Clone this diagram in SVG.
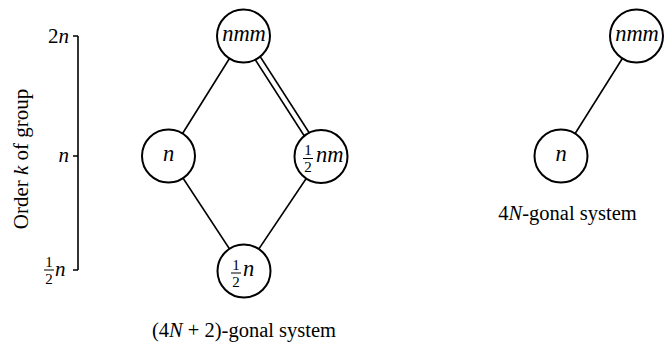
<svg xmlns="http://www.w3.org/2000/svg" width="664" height="347" viewBox="0 0 664 347" font-family="'Liberation Serif', 'DejaVu Serif', serif">
<style>
.v{font-style:italic;font-size:22.5px}
.ax{font-style:italic;font-size:21px}
.fr{font-size:15px}
.lbl{font-size:20.5px}
.node circle{fill:#fff;stroke:#000;stroke-width:2}
.edge{stroke:#000;stroke-width:1.6;fill:none}
.fb{stroke:#000;stroke-width:1}
</style>
<rect width="664" height="347" fill="#fff"/>
<g id="axis">
<path d="M78 36V270M73 36H78M73 156H78M73 270H78" stroke="#000" stroke-width="1.6" fill="none"/>
<text class="ax" x="69" y="43" text-anchor="end"><tspan font-style="normal">2</tspan>n</text>
<text class="ax" x="69" y="162" text-anchor="end">n</text>
<text class="ax" x="55" y="276">n</text>
<text class="fr" x="49" y="267" text-anchor="middle">1</text>
<line class="fb" x1="44" y1="270" x2="54" y2="270"/>
<text class="fr" x="49" y="284" text-anchor="middle">2</text>
<text font-size="21" transform="translate(28 159) rotate(-90)" text-anchor="middle">Order <tspan font-style="italic">k</tspan> of group</text>
</g>
<g id="connectors">
<line class="edge" x1="243.5" y1="36" x2="168.5" y2="156"/>
<line class="edge" x1="168.5" y1="156" x2="244" y2="271"/>
<line class="edge" x1="321" y1="156.5" x2="244" y2="271"/>
<line class="edge" x1="241" y1="37.5" x2="318.5" y2="158"/>
<line class="edge" x1="246" y1="34.5" x2="323.5" y2="155"/>
<line class="edge" x1="636.5" y1="36" x2="561" y2="156"/>
</g>
<g id="node-nmm" class="node"><circle cx="243.5" cy="36" r="26.5"/><text class="v" x="244" y="41" text-anchor="middle">nmm</text></g>
<g id="node-n" class="node"><circle cx="168.5" cy="156" r="26.5"/><text class="v" x="168.5" y="161" text-anchor="middle">n</text></g>
<g id="node-halfnm" class="node"><circle cx="321" cy="156.5" r="26.5"/>
<text class="fr" x="308" y="155" text-anchor="middle">1</text><line class="fb" x1="303" y1="158.5" x2="313" y2="158.5"/><text class="fr" x="308" y="172" text-anchor="middle">2</text>
<text class="v" x="316" y="162">nm</text></g>
<g id="node-halfn" class="node"><circle cx="244" cy="271" r="26.5"/>
<text class="fr" x="236" y="269.5" text-anchor="middle">1</text><line class="fb" x1="231" y1="273" x2="241" y2="273"/><text class="fr" x="236" y="286.5" text-anchor="middle">2</text>
<text class="v" x="243" y="276">n</text></g>
<text class="lbl" x="244" y="337" text-anchor="middle">(4<tspan font-style="italic">N</tspan> + 2)-gonal system</text>
<g id="node-nmm2" class="node"><circle cx="636.5" cy="36" r="26.5"/><text class="v" x="637" y="41" text-anchor="middle">nmm</text></g>
<g id="node-n2" class="node"><circle cx="561" cy="156" r="26.5"/><text class="v" x="561" y="161" text-anchor="middle">n</text></g>
<text class="lbl" x="567.5" y="220" text-anchor="middle">4<tspan font-style="italic">N</tspan>-gonal system</text>
</svg>
